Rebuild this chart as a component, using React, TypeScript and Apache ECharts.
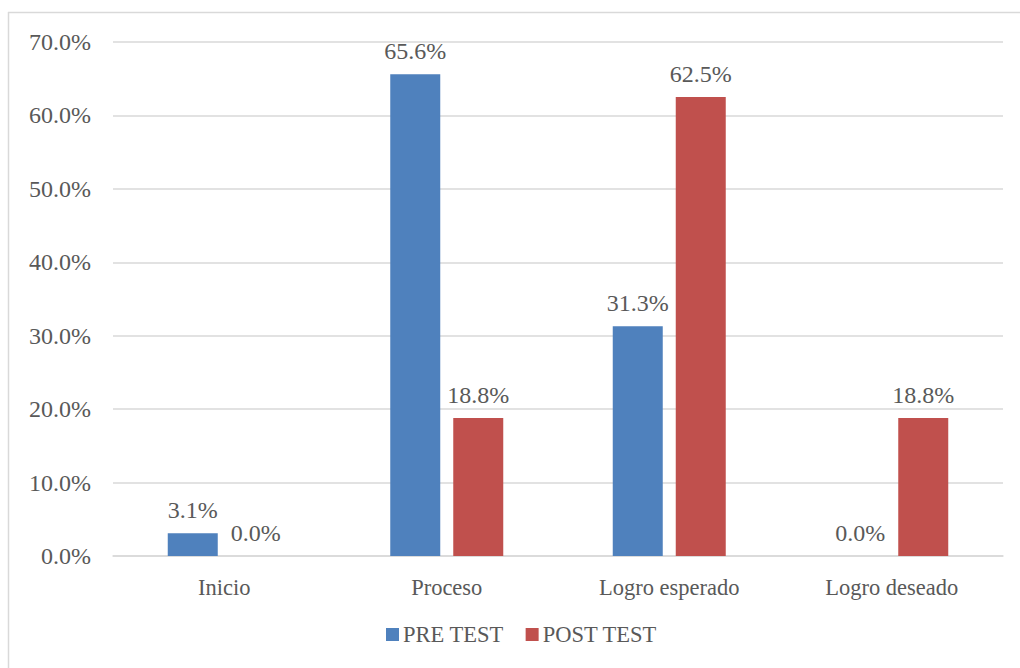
import React, { useEffect, useRef } from "react";
import * as echarts from "echarts";

const categories = ["Inicio", "Proceso", "Logro esperado", "Logro deseado"];
const preTest = [3.1, 65.6, 31.3, 0.0];
const postTest = [0.0, 18.8, 62.5, 18.8];
const seriesNames = ["PRE TEST", "POST TEST"];

const FONT = "Liberation Serif";
const TEXT = "#595959";
const FS = 22;
const FSN = 24;

export default function App() {
  const ref = useRef<HTMLDivElement>(null);
  useEffect(() => {
    const chart = echarts.init(ref.current!, null, { renderer: "svg" });
    const label = {
      show: true,
      position: "top",
      distance: 11,
      fontFamily: FONT,
      fontSize: FSN,
      color: TEXT,
      formatter: (p: any) => p.value.toFixed(1) + "%",
    };
    chart.setOption({
      animation: false,
      backgroundColor: "#fff",
      textStyle: { fontFamily: FONT },
      graphic: [
        { type: "line", shape: { x1: 8.5, y1: 12, x2: 8.5, y2: 668 }, style: { stroke: "#d9d9d9", lineWidth: 1.5 } },
        { type: "line", shape: { x1: 8, y1: 12.5, x2: 1020, y2: 12.5 }, style: { stroke: "#d9d9d9", lineWidth: 1.5 } },
      ],
      legend: {
        data: seriesNames,
        bottom: 22,
        left: 386,
        padding: 0,
        itemWidth: 13,
        itemHeight: 13,
        itemGap: 22,
        icon: "rect",
        textStyle: { fontFamily: FONT, fontSize: FS + 0.5, color: TEXT, padding: [0, 0, 0, -1] },
      },
      grid: { left: 113, right: 17, top: 42, bottom: 112, containLabel: false },
      xAxis: {
        type: "category",
        data: categories,
        axisLine: { lineStyle: { color: "#d9d9d9", width: 1.5 } },
        axisTick: { show: false },
        axisLabel: { fontFamily: FONT, fontSize: FS + 0.5, color: TEXT, margin: 20 },
      },
      yAxis: {
        type: "value",
        min: 0,
        max: 70,
        interval: 10,
        axisLine: { show: false },
        axisTick: { show: false },
        splitLine: { lineStyle: { color: "#d9d9d9", width: 1.5 } },
        axisLabel: {
          fontFamily: FONT,
          fontSize: FSN,
          color: TEXT,
          margin: 22,
          formatter: (v: number) => v.toFixed(1) + "%",
        },
      },
      series: [
        {
          name: seriesNames[0],
          type: "bar",
          data: preTest,
          barWidth: 50,
          barGap: "26%",
          itemStyle: { color: "#4F81BD" },
          label,
        },
        {
          name: seriesNames[1],
          type: "bar",
          data: postTest,
          barWidth: 50,
          itemStyle: { color: "#C0504D" },
          label,
        },
      ],
    });
    return () => chart.dispose();
  }, []);
  return (
    <div
      ref={ref}
      style={{ position: "absolute", left: 0, top: 0, width: 1020, height: 668 }}
    />
  );
}
